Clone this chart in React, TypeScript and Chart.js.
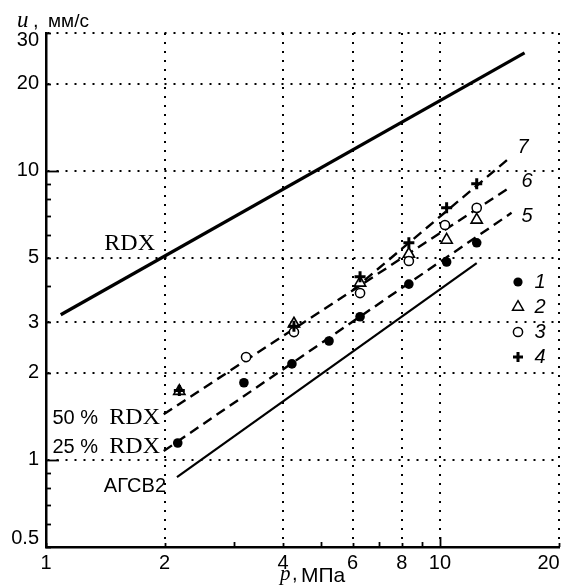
import React, { useEffect, useRef } from 'react';
import { Chart, registerables } from 'chart.js';

Chart.register(...registerables);

// axis ticks
const X_TICKS = [1, 2, 4, 6, 8, 10, 20];
const Y_TICKS = [0.5, 1, 2, 3, 5, 10, 20, 30];
const X_MINOR = [3, 5, 7, 9];
const Y_MINOR = [0.6, 0.7, 0.8, 0.9, 4, 6, 7, 8, 9];

// series 1 (filled circles)
const P1 = [2.16, 3.18, 4.21, 5.23, 6.27, 8.34, 10.4, 12.4];
const U1 = [1.145, 1.85, 2.15, 2.58, 3.13, 4.06, 4.84, 5.64];
// series 2 (open triangles)
const P2 = [2.18, 4.26, 6.27, 8.34, 10.4, 12.4];
const U2 = [1.73, 2.96, 4.1, 5.16, 5.77, 6.77];
// series 3 (open circles)
const P3 = [3.22, 4.26, 6.27, 8.34, 10.3, 12.4];
const U3 = [2.27, 2.77, 3.78, 4.88, 6.5, 7.45];
// series 4 (plus)
const P4 = [2.18, 4.26, 6.27, 8.34, 10.4, 12.4];
const U4 = [1.74, 2.9, 4.3, 5.64, 7.45, 9.02];

// lines
const RDX_P = [1.09, 16.4];
const RDX_U = [3.18, 25.6];
const AGSV_P = [2.15, 12.4];
const AGSV_U = [0.873, 4.8];
const L5_P = [1.99, 15.2];
const L5_U = [1.074, 7.16];
const L6_P = [1.99, 15.1];
const L6_U = [1.44, 8.8];
const L7_P = [6.0, 14.8];
const L7_U = [3.86, 10.9];

const LEGEND_LABELS = ['1', '2', '3', '4'];
const LINE_LABELS = ['5', '6', '7'];

const SANS = '"Liberation Sans", Arial, sans-serif';
const SERIF = '"Liberation Serif", "Times New Roman", serif';

const pts = (xs: number[], ys: number[]) => xs.map((x, i) => ({ x, y: ys[i] }));

function txt(ctx: CanvasRenderingContext2D, s: string, x: number, y: number, font: string, align: CanvasTextAlign = 'left') {
  ctx.font = font;
  ctx.textAlign = align;
  ctx.textBaseline = 'alphabetic';
  ctx.fillStyle = '#000';
  ctx.fillText(s, x, y);
}

const overlay = {
  id: 'overlay',
  afterDraw(chart: any) {
    const { ctx, chartArea, scales } = chart;
    const xs = scales.x;
    const ys = scales.y;
    const L = chartArea.left;
    const B = chartArea.bottom;
    ctx.save();
    ctx.strokeStyle = '#000';
    ctx.lineWidth = 1.8;
    const yTick = (v: number, len: number) => {
      const py = Math.round(ys.getPixelForValue(v)) + 0.5;
      ctx.beginPath(); ctx.moveTo(L, py); ctx.lineTo(L + len, py); ctx.stroke();
    };
    const xTick = (v: number, len: number) => {
      const px = Math.round(xs.getPixelForValue(v)) + 0.5;
      ctx.beginPath(); ctx.moveTo(px, B); ctx.lineTo(px, B - len); ctx.stroke();
    };
    Y_MINOR.forEach((v) => yTick(v, 5));
    Y_TICKS.forEach((v) => yTick(v, v === 1 || v === 10 ? 13 : 5));
    X_MINOR.forEach((v) => xTick(v, 5));
    X_TICKS.forEach((v) => xTick(v, v === 10 ? 10 : 4));

    // in-plot labels
    txt(ctx, 'RDX', 155, 250, `24px ${SERIF}`, 'right');
    txt(ctx, 'RDX', 160, 424, `24px ${SERIF}`, 'right');
    txt(ctx, '50 %', 98, 424, `20px ${SANS}`, 'right');
    txt(ctx, 'RDX', 160, 453, `24px ${SERIF}`, 'right');
    txt(ctx, '25 %', 98, 453, `20px ${SANS}`, 'right');
    txt(ctx, 'АГСВ2', 166, 492, `20px ${SANS}`, 'right');

    // curve numbers
    txt(ctx, LINE_LABELS[2], 523, 153, `italic 20px ${SANS}`, 'center');
    txt(ctx, LINE_LABELS[1], 527, 187, `italic 20px ${SANS}`, 'center');
    txt(ctx, LINE_LABELS[0], 527, 222, `italic 20px ${SANS}`, 'center');

    // legend
    const lx = 518;
    const ly = [282, 307, 332, 357];
    ctx.fillStyle = '#000';
    ctx.beginPath(); ctx.arc(lx, ly[0], 4.6, 0, Math.PI * 2); ctx.fill();
    ctx.lineWidth = 1.5;
    ctx.beginPath();
    const r = 6.3;
    ctx.moveTo(lx, ly[1] - r);
    ctx.lineTo(lx + r * Math.sin((2 * Math.PI) / 3), ly[1] - r * Math.cos((2 * Math.PI) / 3));
    ctx.lineTo(lx + r * Math.sin((4 * Math.PI) / 3), ly[1] - r * Math.cos((4 * Math.PI) / 3));
    ctx.closePath(); ctx.stroke();
    ctx.beginPath(); ctx.arc(lx, ly[2], 4.6, 0, Math.PI * 2); ctx.stroke();
    ctx.lineWidth = 3;
    ctx.beginPath(); ctx.moveTo(lx - 5, ly[3]); ctx.lineTo(lx + 5, ly[3]);
    ctx.moveTo(lx, ly[3] - 5); ctx.lineTo(lx, ly[3] + 5); ctx.stroke();
    LEGEND_LABELS.forEach((s, i) => txt(ctx, s, 540, ly[i] + 6, `italic 20px ${SANS}`, 'center'));

    // axis titles
    txt(ctx, 'u', 17, 27, `italic 23px ${SERIF}`, 'left');
    txt(ctx, ',', 33, 27, `20px ${SANS}`, 'left');
    txt(ctx, 'мм/с', 48, 27, `19px ${SANS}`, 'left');
    txt(ctx, 'p', 280, 580, `italic 21px ${SERIF}`, 'left');
    txt(ctx, ',', 292, 580, `20px ${SANS}`, 'left');
    txt(ctx, 'МПа', 301, 582, `21px ${SANS}`, 'left');
    ctx.restore();
  },
};

export default function App() {
  const ref = useRef<HTMLCanvasElement>(null);
  useEffect(() => {
    document.body.style.margin = '0';
    const canvas = ref.current!;
    const markerCommon = { showLine: false, borderColor: '#000', pointBorderColor: '#000' };
    const lineCommon = { showLine: true, pointRadius: 0, borderColor: '#000', backgroundColor: '#000', tension: 0 };
    const chart = new Chart(canvas, {
      type: 'scatter',
      data: {
        datasets: [
          { ...markerCommon, label: '4', data: pts(P4, U4), pointStyle: 'cross', pointRadius: 5.5, pointBorderWidth: 3, pointBackgroundColor: '#000' },
          { ...markerCommon, label: '3', data: pts(P3, U3), pointStyle: 'circle', pointRadius: 4.6, pointBorderWidth: 1.5, pointBackgroundColor: '#fff' },
          { ...markerCommon, label: '2', data: pts(P2, U2), pointStyle: 'triangle', pointRadius: 6.5, pointBorderWidth: 1.6, pointBackgroundColor: '#fff' },
          { ...markerCommon, label: '1', data: pts(P1, U1), pointStyle: 'circle', pointRadius: 4.8, pointBorderWidth: 0, pointBackgroundColor: '#000' },
          { ...lineCommon, label: 'RDX', data: pts(RDX_P, RDX_U), borderWidth: 3.2 },
          { ...lineCommon, label: 'АГСВ2', data: pts(AGSV_P, AGSV_U), borderWidth: 2.2 },
          { ...lineCommon, label: '5', data: pts(L5_P, L5_U), borderWidth: 2.4, borderDash: [10, 6] },
          { ...lineCommon, label: '6', data: pts(L6_P, L6_U), borderWidth: 2.4, borderDash: [10, 6] },
          { ...lineCommon, label: '7', data: pts(L7_P, L7_U), borderWidth: 2.4, borderDash: [10, 6] },
        ],
      },
      options: {
        responsive: false,
        animation: false,
        events: [],
        layout: { padding: { top: 33, right: 8, left: 0, bottom: 0 } },
        plugins: { legend: { display: false }, tooltip: { enabled: false }, title: { display: false } },
        scales: {
          x: {
            type: 'logarithmic',
            position: 'bottom',
            min: 1,
            max: 20,
            afterBuildTicks: (s: any) => { s.ticks = X_TICKS.map((v) => ({ value: v })); },
            afterFit: (s: any) => { s.height = 41; s.paddingLeft = 0; s.paddingRight = 0; },
            ticks: {
              autoSkip: false,
              maxRotation: 0,
              padding: 4,
              color: '#000',
              font: { family: SANS, size: 20 },
              callback: (v: any) => (Number(v) === 20 ? '20\u2002\u2002' : String(v)),
            },
            grid: { color: '#000', lineWidth: 2, drawTicks: false },
            border: { display: true, color: '#000', width: 2.5, dash: [2, 7] },
          },
          y: {
            type: 'logarithmic',
            position: 'left',
            min: 0.5,
            max: 30,
            afterBuildTicks: (s: any) => { s.ticks = Y_TICKS.map((v) => ({ value: v })); },
            afterFit: (s: any) => { s.width = 46; s.paddingTop = 0; s.paddingBottom = 0; },
            ticks: {
              autoSkip: false,
              padding: 7,
              color: '#000',
              font: (c: any) => {
                const v = c.tick ? c.tick.value : 0;
                return { family: SANS, size: 20, lineHeight: v === 30 ? 0.7 : v === 0.5 ? 0.9 : 1.2 };
              },
              callback: (v: any) => {
                const n = Number(v);
                if (n === 30) return ['', '30'];
                if (n === 0.5) return ['0.5', ''];
                return String(n);
              },
            },
            grid: { color: '#000', lineWidth: 2, drawTicks: false },
            border: { display: true, color: '#000', width: 2.5, dash: [2, 7] },
          },
        },
      } as any,
      plugins: [overlay],
    });
    return () => chart.destroy();
  }, []);
  return (
    <div style={{ position: 'absolute', left: 0, top: 0, width: 567, height: 588, background: '#fff' }}>
      <canvas ref={ref} width={567} height={588} style={{ display: 'block' }} />
    </div>
  );
}
